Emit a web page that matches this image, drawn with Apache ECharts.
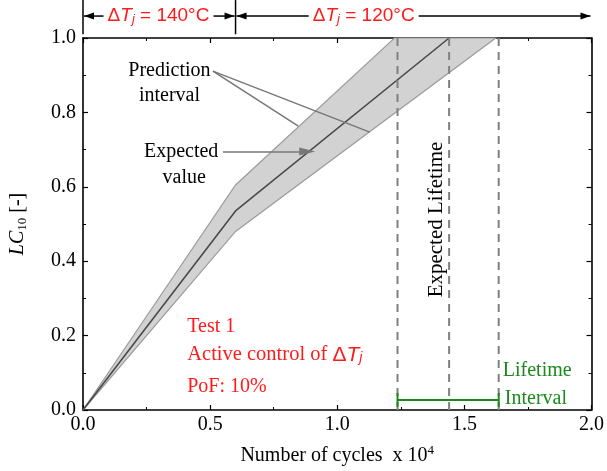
<!DOCTYPE html>
<html><head><meta charset="utf-8">
<script src="https://cdn.jsdelivr.net/npm/echarts@6/dist/echarts.min.js"></script>
<style>html,body{margin:0;padding:0;background:#fff}#c{width:607px;height:471px}</style>
</head><body><div id="c"></div>
<script>
// ---- data ----
const expectedX = [0, 0.6, 1.44];
const expectedY = [0, 0.535, 1.0];
const upperX = [0, 0.6, 1.225];
const upperY = [0, 0.605, 1.0];
const lowerX = [0, 0.6, 1.623];
const lowerY = [0, 0.48, 1.0];
const lifetimeLines = [1.237, 1.44, 1.635];   // lower / expected / upper lifetime
const lifetimeInterval = [1.237, 1.635];
const intervalLevel = 0.027;
const phaseBounds = [0, 0.6, 2.0];            // ΔTj phases
const phaseLabels = ['140°C', '120°C'];

const SERIF = '"Liberation Serif", "Times New Roman", serif';
const SANS = '"Liberation Sans", Arial, sans-serif';
const RED = '#ff1a1a';
const GREEN = '#1b8a1b';

const polyX = upperX.concat(lowerX.slice().reverse());
const polyY = upperY.concat(lowerY.slice().reverse());

const chart = echarts.init(document.getElementById('c'));

function axisCommon(pos, showLabel) {
  return {
    type: 'value', position: pos,
    axisLine: { onZero: false, lineStyle: { color: '#000', width: 1.6 } },
    axisTick: { inside: true, length: 5, lineStyle: { color: '#000', width: 1.2 } },
    minorTick: { show: true, splitNumber: 2, length: 3, lineStyle: { color: '#000', width: 1 } },
    splitLine: { show: false },
    axisLabel: { show: showLabel, formatter: v => v.toFixed(1), fontFamily: SERIF, fontSize: 20, color: '#000' }
  };
}

const xBottom = Object.assign(axisCommon('bottom', true), {
  min: 0, max: 2, interval: 0.5,
  name: '{m|Number of cycles  x 10}{sup|4}', nameLocation: 'middle', nameGap: 34,
  nameTextStyle: { fontFamily: SERIF, fontSize: 20, color: '#000',
    rich: {
      m: { fontFamily: SERIF, fontSize: 20, color: '#000' },
      sup: { fontFamily: SERIF, fontSize: 13, color: '#000', verticalAlign: 'top', padding: [0, 0, 10, 0] }
    } }
});
xBottom.axisLabel.margin = 5;
const xTop = Object.assign(axisCommon('top', false), { min: 0, max: 2, interval: 0.5 });
const yLeft = Object.assign(axisCommon('left', true), {
  min: 0, max: 1, interval: 0.2,
  name: '{i|LC}{s|10}{n| [-]}', nameLocation: 'middle', nameGap: 54,
  nameTextStyle: { fontFamily: SERIF, fontSize: 20, color: '#000',
    rich: {
      i: { fontFamily: SERIF, fontSize: 20, fontStyle: 'italic', color: '#000' },
      s: { fontFamily: SERIF, fontSize: 13, color: '#000', verticalAlign: 'bottom', padding: [9, 0, 0, 0] },
      n: { fontFamily: SERIF, fontSize: 20, color: '#000' }
    } }
});
yLeft.axisLabel.margin = 7;
const yRight = Object.assign(axisCommon('right', false), { min: 0, max: 1, interval: 0.2 });

const series = [
  {
    type: 'custom', z: 1, silent: true,
    renderItem: (params, api) => {
      const pts = polyX.map((x, i) => api.coord([x, polyY[i]]));
      return { type: 'polygon', shape: { points: pts },
        style: { fill: '#d2d2d2', stroke: '#9c9c9c', lineWidth: 1.2 } };
    },
    data: [[0, 0]]
  },
  {
    type: 'line', z: 3, symbol: 'none', silent: true,
    data: expectedX.map((x, i) => [x, expectedY[i]]),
    lineStyle: { color: '#4a4a4a', width: 1.6 },
    markLine: {
      silent: true, symbol: ['none', 'none'], label: { show: false },
      lineStyle: { color: '#777', width: 1.5, type: 'solid' },
      data: [
        [{ coord: [0.511, 0.911] }, { coord: [0.847, 0.763] }],
        [{ coord: [0.511, 0.911] }, { coord: [1.128, 0.747] }],
        [{ coord: [0.55, 0.695], symbol: 'none' }, { coord: [0.882, 0.695], symbol: 'triangle', symbolSize: [8, 16], symbolRotate: -90, itemStyle: { color: '#666' } }]
      ]
    }
  }
];
lifetimeLines.forEach(x => series.push({
  type: 'line', z: 4, symbol: 'none', silent: true,
  data: [[x, 0], [x, 1]],
  lineStyle: { color: '#808080', width: 2, type: [8, 6] }
}));
series.push({
  type: 'line', z: 5, silent: true,
  data: lifetimeInterval.map(x => [x, intervalLevel]),
  symbol: 'rect', symbolSize: [2, 14], showSymbol: true,
  itemStyle: { color: GREEN },
  lineStyle: { color: GREEN, width: 2 }
});

chart.setOption({
  animation: false,
  grid: { left: 81, right: 13, top: 38, bottom: 61 },
  xAxis: [xBottom, xTop],
  yAxis: [yLeft, yRight],
  series: series
});

// ---- annotations (placed through the chart's scales) ----
const P = (x, y) => chart.convertToPixel({ gridIndex: 0 }, [x, y]);
const g = [];
function text(x, y, str, opt) {
  const p = P(x, y);
  g.push({ type: 'text', x: p[0], y: p[1], rotation: opt.rotation || 0, silent: true,
    style: Object.assign({ text: str, fill: '#000', font: (opt.size || 20) + 'px ' + SERIF, align: 'center', verticalAlign: 'middle' }, opt.style || {}) });
}
text(0.34, 0.911, 'Prediction', {});
text(0.34, 0.844, 'interval', {});
text(0.386, 0.695, 'Expected', {});
text(0.398, 0.625, 'value', {});
text(1.389, 0.512, 'Expected Lifetime', { rotation: Math.PI / 2, size: 21 });
text(1.651, 0.105, 'Lifetime', { style: { fill: GREEN, align: 'left' } });
text(1.659, 0.030, 'Interval', { style: { fill: GREEN, align: 'left' } });
text(0.41, 0.224, 'Test 1', { style: { fill: RED, align: 'left' } });
text(0.41, 0.148, '{a|Active control of }{d|Δ}{t|T}{j|j}', { style: { fill: RED, align: 'left',
  rich: {
    a: { fontFamily: SERIF, fontSize: 20.5, fill: RED },
    d: { fontFamily: SANS, fontSize: 21, fill: RED },
    t: { fontFamily: SANS, fontSize: 21, fontStyle: 'italic', fill: RED },
    j: { fontFamily: SANS, fontSize: 14, fontStyle: 'italic', fill: RED, verticalAlign: 'bottom', padding: [7, 0, 0, 0] }
  } } });
text(0.41, 0.062, 'PoF: 10%', { style: { fill: RED, align: 'left' } });

// top ΔTj phase annotation
const yLine = P(0, 1.059)[1];
const yTopV = P(0, 1.102)[1];
const yBotV = P(0, 1.01)[1];
const dtRich = {
  d: { fontFamily: SANS, fontSize: 19, fill: RED },
  t: { fontFamily: SANS, fontSize: 19, fontStyle: 'italic', fill: RED },
  j: { fontFamily: SANS, fontSize: 13, fontStyle: 'italic', fill: RED, verticalAlign: 'bottom', padding: [7, 0, 0, 0] },
  r: { fontFamily: SANS, fontSize: 19, fill: RED }
};
const phaseCenters = [0.297, 1.104];
const halfW = 52;
const AR = 10, AH = 3.5;
function arrowHead(xTip, dir) {
  g.push({ type: 'polygon', silent: true,
    shape: { points: [[xTip, yLine], [xTip - dir * AR, yLine - AH], [xTip - dir * AR, yLine + AH]] },
    style: { fill: '#000' } });
}
function hline(x1, x2) {
  g.push({ type: 'line', silent: true, shape: { x1: x1, y1: yLine, x2: x2, y2: yLine }, style: { stroke: '#000', lineWidth: 1.5 } });
}
[0, 1].forEach(k => {
  const xa = P(phaseBounds[k], 0)[0];
  g.push({ type: 'line', silent: true, shape: { x1: xa, y1: yTopV, x2: xa, y2: yBotV }, style: { stroke: '#000', lineWidth: 1.5 } });
});
for (let k = 0; k < 2; k++) {
  const xa = P(phaseBounds[k], 0)[0] + 1;
  const xb = P(phaseBounds[k + 1], 0)[0] - 1;
  const xc = P(phaseCenters[k], 0)[0];
  g.push({ type: 'text', x: xc, y: yLine, silent: true,
    style: { text: '{d|Δ}{t|T}{j|j}{r| = ' + phaseLabels[k] + '}', rich: dtRich, align: 'center', verticalAlign: 'middle', fill: RED } });
  hline(xa, xc - halfW - 3);
  hline(xc + halfW + 3, xb);
  arrowHead(xa, -1);
  arrowHead(xb, 1);
}
chart.setOption({ graphic: g });
</script>
</body></html>
